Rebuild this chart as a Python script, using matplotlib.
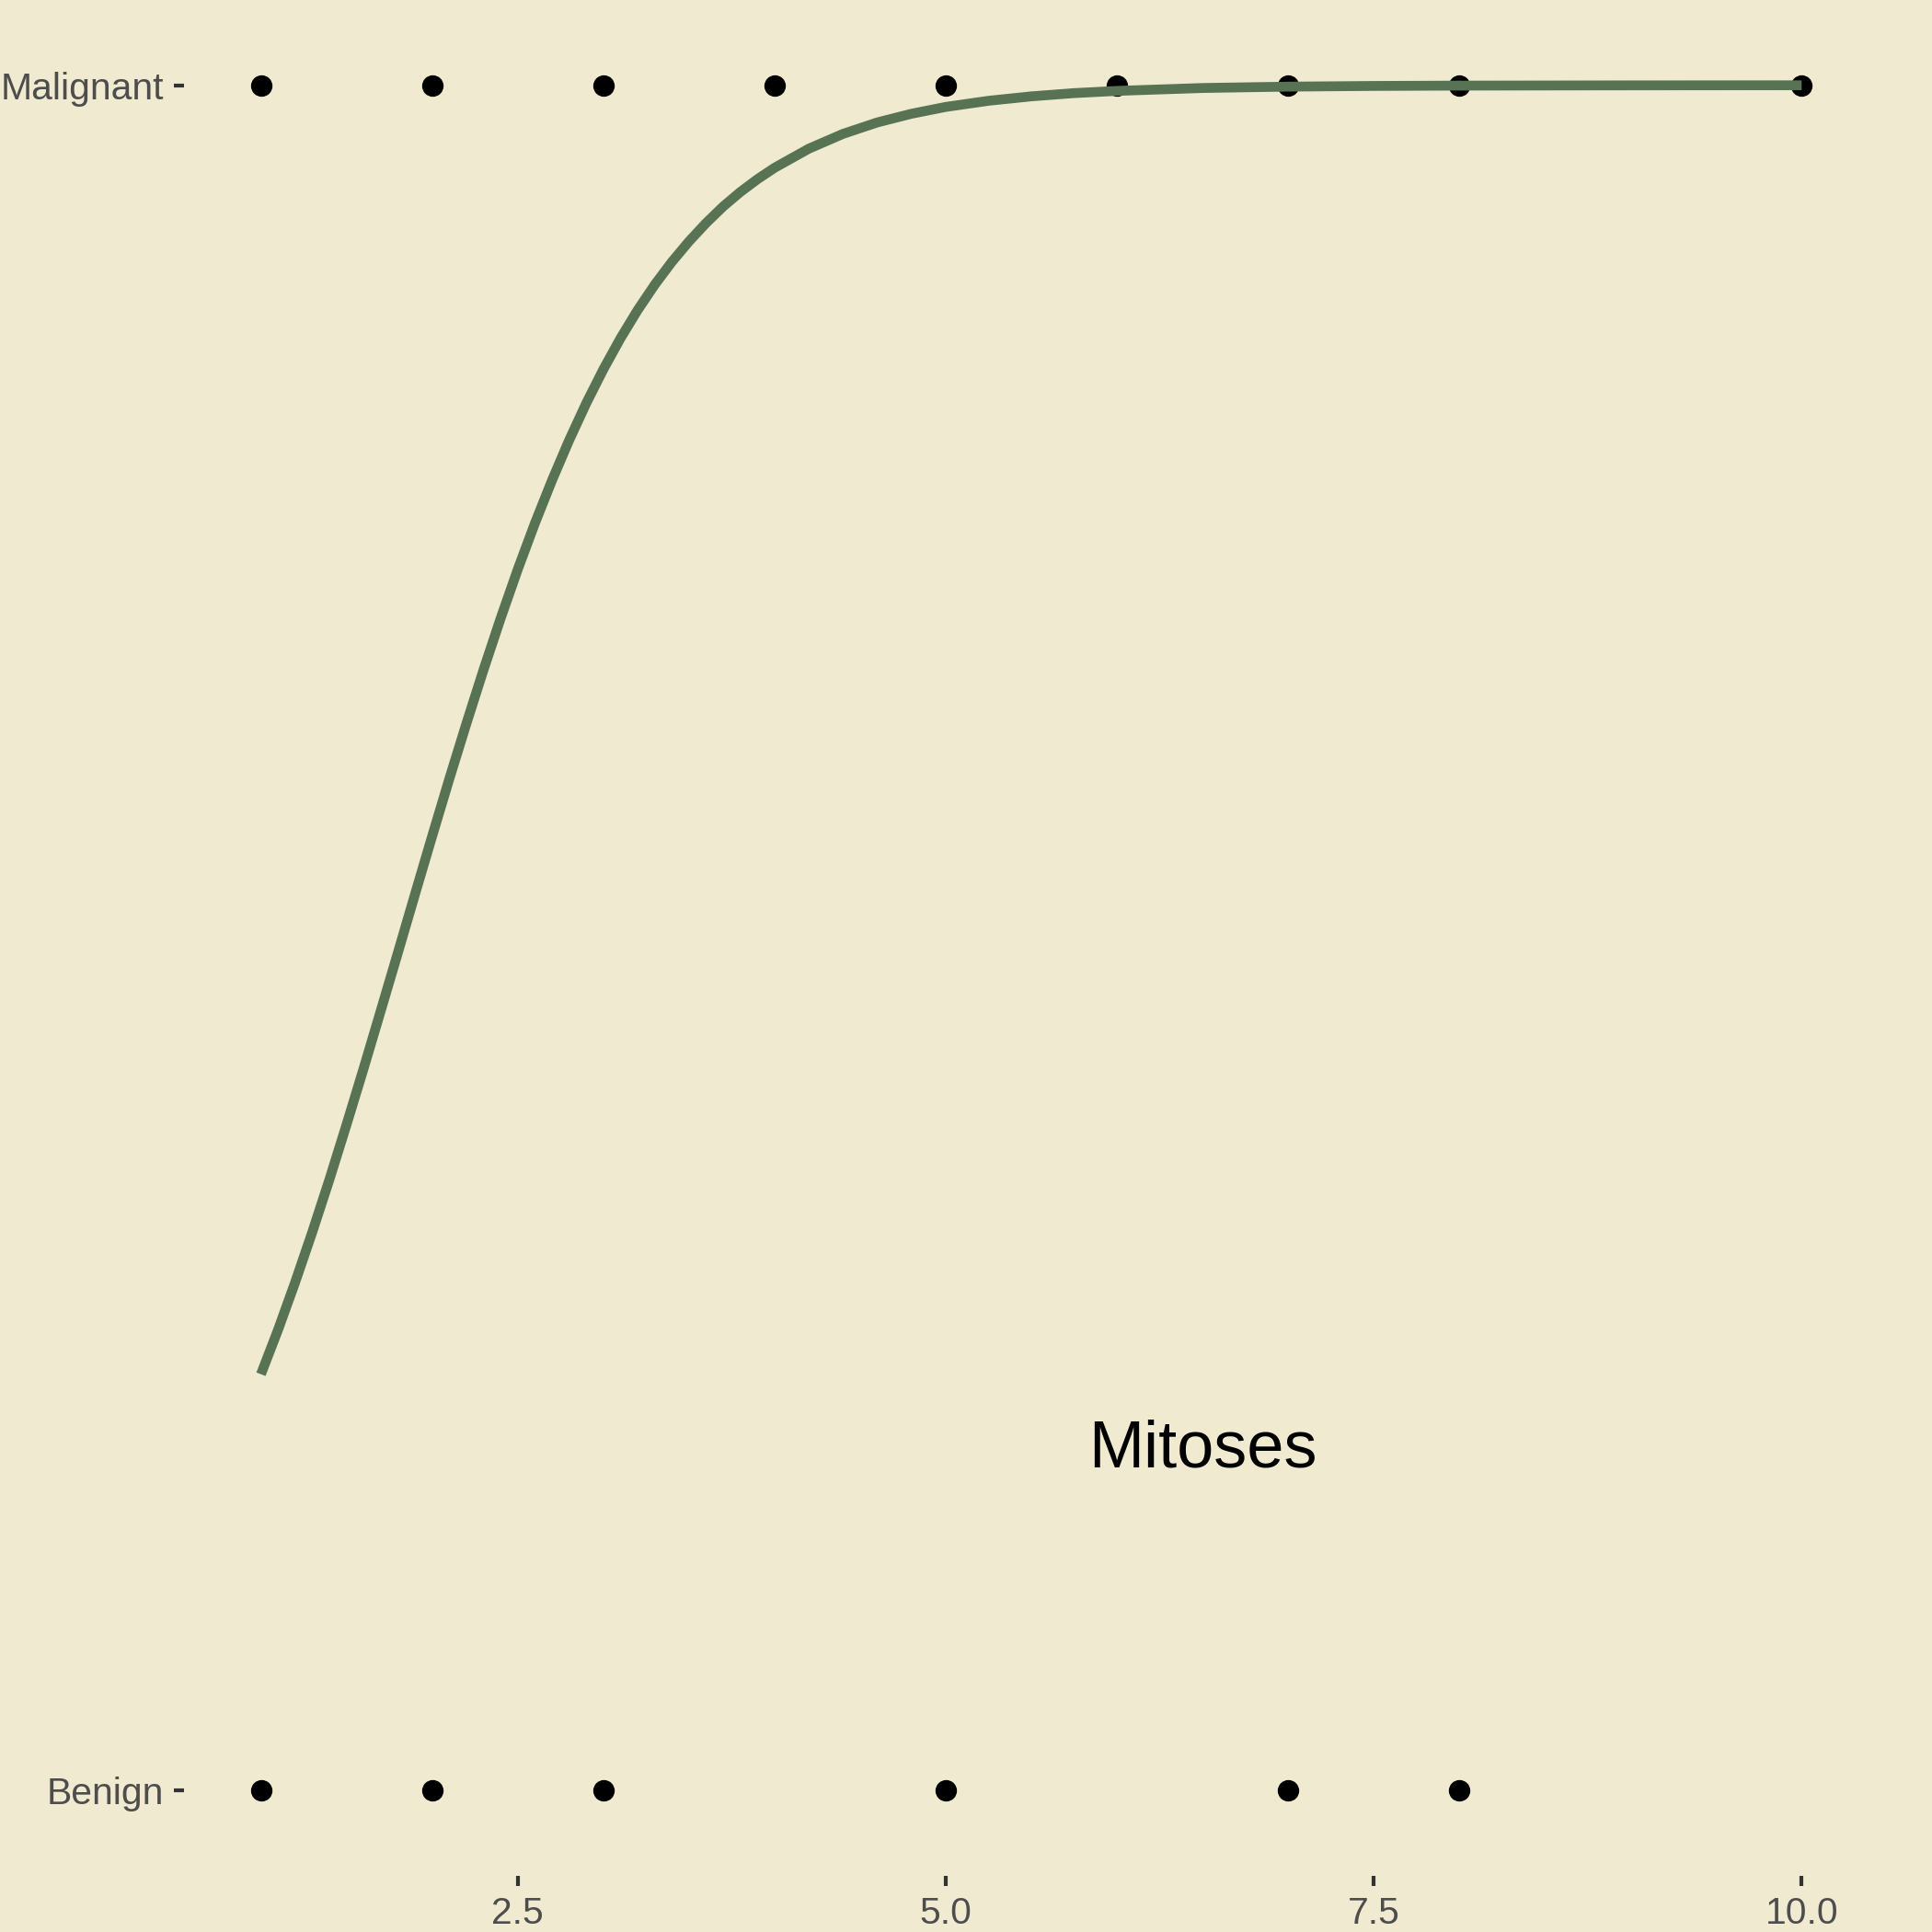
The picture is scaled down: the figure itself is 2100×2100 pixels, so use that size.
import numpy as np
import matplotlib
matplotlib.use("Agg")
import matplotlib.pyplot as plt

plt.rcParams['font.family'] = ['Liberation Sans', 'DejaVu Sans']

# observed outcomes (0 = Benign, 1 = Malignant) at each mitoses value
malignant_x = [1, 2, 3, 4, 5, 6, 7, 8, 10]
benign_x = [1, 2, 3, 5, 7, 8]

# fitted logistic curve
curve_x = [1.0, 1.1, 1.2, 1.3, 1.4, 1.5, 1.6, 1.7, 1.8, 1.9,
           2.0, 2.1, 2.2, 2.3, 2.4, 2.5, 2.6, 2.7, 2.8, 2.9,
           3.0, 3.1, 3.2, 3.3, 3.4, 3.5, 3.6, 3.7, 3.8, 3.9,
           4.0, 4.2, 4.4, 4.6, 4.8, 5.0, 5.25, 5.5, 5.75, 6.0,
           6.5, 7.0, 7.5, 8.0, 9.0, 10.0]
curve_p = [0.2442, 0.2703, 0.2982, 0.3276, 0.3584, 0.3906, 0.4236, 0.4574, 0.4914, 0.5257,
           0.5597, 0.5932, 0.6257, 0.6572, 0.6874, 0.7161, 0.7431, 0.7683, 0.7918, 0.8135,
           0.8334, 0.8516, 0.8681, 0.8830, 0.8964, 0.9084, 0.9192, 0.9289, 0.9374, 0.9449,
           0.9516, 0.9628, 0.9715, 0.9782, 0.9833, 0.9873, 0.9909, 0.9935, 0.9954, 0.9967,
           0.9984, 0.9992, 0.9996, 0.9998, 0.99995, 1.0]

y_ticks = [0, 1]
y_labels = ["Benign", "Malignant"]
x_ticks = [2.5, 5.0, 7.5, 10.0]
x_labels = ["2.5", "5.0", "7.5", "10.0"]

bg = "#F0EBD0"
fig = plt.figure(figsize=(7, 7), dpi=300, facecolor=bg)
ax = fig.add_axes([0.0952, 0.029, 0.8772, 0.971])
ax.set_facecolor(bg)

ax.plot(malignant_x, [1] * len(malignant_x), "o", color="black", markersize=4.6, zorder=2)
ax.plot(benign_x, [0] * len(benign_x), "o", color="black", markersize=4.6, zorder=2)
ax.plot(curve_x, curve_p, color="#577354", linewidth=2.56, zorder=3,
        solid_capstyle="butt", solid_joinstyle="round")

ax.text(6.5, 0.2, "Mitoses", fontsize=17.3, color="black", ha="center", va="center")

ax.set_xlim(0.55, 10.45)
ax.set_ylim(-0.05, 1.05)
ax.set_xticks(x_ticks)
ax.set_xticklabels(x_labels)
ax.set_yticks(y_ticks)
ax.set_yticklabels(y_labels)
ax.tick_params(axis="both", length=2.75, width=1.0, color="#333333",
               labelcolor="#4D4D4D", labelsize=9.8, pad=2.4)
for s in ax.spines.values():
    s.set_visible(False)

fig.savefig("out.png", dpi=300, facecolor=bg)
